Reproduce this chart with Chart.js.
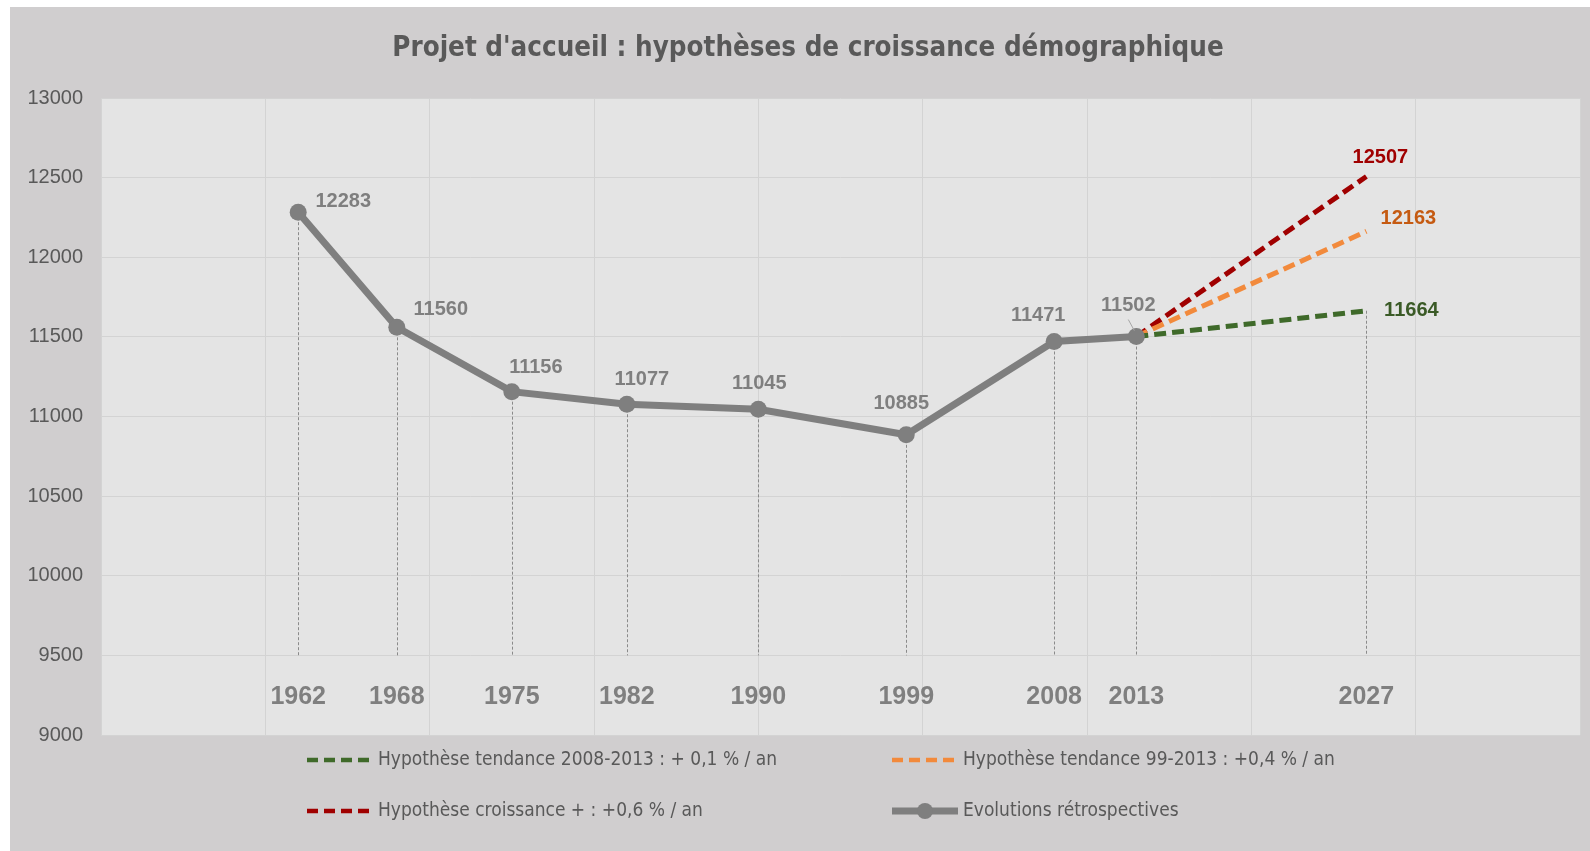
<!DOCTYPE html>
<html>
<head>
<meta charset="utf-8">
<script src="https://cdn.jsdelivr.net/npm/chart.js@4.4.1/dist/chart.umd.min.js"></script>
<style>
html,body{margin:0;padding:0;background:#fff;}
#wrap{position:absolute;left:10px;top:7px;width:1580px;height:844px;background:#d0cecf;}
</style>
</head>
<body>
<div id="wrap"><canvas id="myChart"></canvas></div>
<script>
// data
var years = [1962, 1968, 1975, 1982, 1990, 1999, 2008, 2013];
var population = [12283, 11560, 11156, 11077, 11045, 10885, 11471, 11502];
var projYears = [2013, 2027];
var hypTendance0813 = [11502, 11664];
var hypTendance9913 = [11502, 12163];
var hypCroissance = [11502, 12507];
var yMin = 9000, yMax = 13000, yStep = 500;
var xMin = 1950, xMax = 2040, xStep = 10;

var chartTitle = "Projet d'accueil : hypothèses de croissance démographique";
var labelsLegend = [
	"Evolutions rétrospectives",
	"Hypothèse tendance 2008-2013 : + 0,1 % / an",
	"Hypothèse tendance 99-2013 : +0,4 % / an",
	"Hypothèse croissance + : +0,6 % / an"
];

function toPoints(xs, ys)
{
	var pts = [];
	for (var i = 0; i < xs.length; i++) {
		pts.push({x: xs[i], y: ys[i]});
	}
	return pts;
}

var narrow = "'Liberation Sans Narrow', 'DejaVu Sans Condensed', sans-serif";
var sans = "'Liberation Sans', Arial, sans-serif";
var grey = '#7f7f7f';
var textGrey = '#595959';

// label offsets from the point (px), historical series
var histOffsets = [[45,-11],[44,-18],[24,-24],[15,-25],[1,-26],[-5,-31],[-16,-26],[-8,-31]];
// projection end labels: dataset index -> offset + colour
var projLabelStyle = {1: [45, 0, '#3a5a26'], 2: [42, -13, '#c55a11'], 3: [14, -19, '#a00000']};

var plotBg = {
	id: 'plotBg',
	beforeDraw: function(chart) {
		var a = chart.chartArea, ctx = chart.ctx;
		ctx.save();
		ctx.fillStyle = '#e4e4e4';
		ctx.fillRect(a.left, a.top, a.right - a.left, a.bottom - a.top);
		// title, slightly right of centre like the original
		ctx.fillStyle = textGrey;
		ctx.font = 'bold 27.5px ' + narrow;
		ctx.textAlign = 'center';
		ctx.textBaseline = 'middle';
		ctx.fillText(chartTitle, 798, 42);
		ctx.restore();
	}
};

var dropLines = {
	id: 'dropLines',
	beforeDatasetsDraw: function(chart) {
		var ctx = chart.ctx, ys = chart.scales.y;
		var yBase = ys.getPixelForValue(9500);
		ctx.save();
		ctx.strokeStyle = '#8a8a8a';
		ctx.lineWidth = 1;
		ctx.setLineDash([3, 2]);
		var pts = chart.getDatasetMeta(0).data.slice();
		pts.push(chart.getDatasetMeta(1).data[1]);
		pts.forEach(function(p) {
			ctx.beginPath();
			ctx.moveTo(Math.round(p.x) + 0.5, p.y);
			ctx.lineTo(Math.round(p.x) + 0.5, yBase);
			ctx.stroke();
		});
		ctx.restore();
	}
};

var labelsPlugin = {
	id: 'labelsPlugin',
	afterDatasetsDraw: function(chart) {
		var ctx = chart.ctx, xs = chart.scales.x, ys = chart.scales.y;
		ctx.save();
		ctx.textAlign = 'center';
		ctx.textBaseline = 'middle';

		// value labels, historical
		ctx.font = 'bold 20px ' + sans;
		ctx.fillStyle = grey;
		var meta = chart.getDatasetMeta(0);
		meta.data.forEach(function(p, i) {
			var o = histOffsets[i];
			ctx.fillText(population[i], p.x + o[0], p.y + o[1]);
		});
		// small leader line for 2013
		var p13 = meta.data[7];
		ctx.strokeStyle = '#a6a6a6';
		ctx.lineWidth = 1;
		ctx.beginPath();
		ctx.moveTo(p13.x - 8, p13.y - 17);
		ctx.lineTo(p13.x - 2, p13.y - 6);
		ctx.stroke();

		// projection end labels
		[1, 2, 3].forEach(function(di) {
			var end = chart.getDatasetMeta(di).data[1];
			var s = projLabelStyle[di];
			ctx.fillStyle = s[2];
			ctx.fillText(chart.data.datasets[di].data[1].y, end.x + s[0], end.y + s[1]);
		});

		// year labels
		ctx.font = 'bold 25px ' + sans;
		ctx.fillStyle = grey;
		var yLab = ys.getPixelForValue(9235);
		years.concat([projYears[1]]).forEach(function(yr) {
			ctx.fillText(yr, xs.getPixelForValue(yr), yLab);
		});
		ctx.restore();
	},
	afterDraw: function(chart) {
		// legend, two columns
		var ctx = chart.ctx;
		var ds = chart.data.datasets;
		var items = [
			[1, 297, 753], [2, 882, 753],
			[3, 297, 804], [0, 882, 804]
		];
		ctx.save();
		ctx.textBaseline = 'middle';
		ctx.textAlign = 'left';
		ctx.font = '19px ' + narrow;
		items.forEach(function(it) {
			var d = ds[it[0]], x = it[1], y = it[2];
			ctx.strokeStyle = d.borderColor;
			if (it[0] === 0) {
				ctx.setLineDash([]);
				ctx.lineWidth = 7;
				ctx.beginPath();
				ctx.moveTo(x, y);
				ctx.lineTo(x + 66, y);
				ctx.stroke();
				ctx.fillStyle = d.borderColor;
				ctx.beginPath();
				ctx.arc(x + 33, y, 8, 0, Math.PI * 2);
				ctx.fill();
			} else {
				ctx.setLineDash([11, 6]);
				ctx.lineWidth = 4.5;
				ctx.beginPath();
				ctx.moveTo(x, y);
				ctx.lineTo(x + 66, y);
				ctx.stroke();
			}
			ctx.fillStyle = textGrey;
			ctx.fillText(d.label, x + 71, y);
		});
		ctx.restore();
	}
};

var ctx = document.getElementById('myChart').getContext('2d');
var myChart = new Chart(ctx, {
	type: 'line',
	data: {
		datasets: [{
			label: labelsLegend[0],
			data: toPoints(years, population),
			borderColor: grey,
			backgroundColor: grey,
			borderWidth: 7,
			pointRadius: 8.5,
			pointBorderWidth: 0,
			pointBackgroundColor: grey
		}, {
			label: labelsLegend[1],
			data: toPoints(projYears, hypTendance0813),
			borderColor: '#3f6a2a',
			borderWidth: 5,
			borderDash: [12, 6],
			pointRadius: 0
		}, {
			label: labelsLegend[2],
			data: toPoints(projYears, hypTendance9913),
			borderColor: '#f28a3c',
			borderWidth: 5,
			borderDash: [12, 6],
			pointRadius: 0
		}, {
			label: labelsLegend[3],
			data: toPoints(projYears, hypCroissance),
			borderColor: '#a00000',
			borderWidth: 5,
			borderDash: [12, 6],
			pointRadius: 0
		}]
	},
	options: {
		responsive: true,
		maintainAspectRatio: false,
		animation: false,
		layout: {padding: {left: 0, right: 10, top: 91, bottom: 116}},
		plugins: {
			legend: {display: false},
			tooltip: {enabled: false},
			title: {display: false}
		},
		scales: {
			x: {
				type: 'linear',
				min: xMin,
				max: xMax,
				ticks: {display: false, stepSize: xStep},
				grid: {color: '#d3d3d3', drawTicks: false},
				border: {display: false}
			},
			y: {
				min: yMin,
				max: yMax,
				ticks: {
					stepSize: yStep, color: textGrey, font: {family: sans, size: 20}, padding: 18,
					callback: function(v) { return String(v); }
				},
				grid: {color: '#d3d3d3', drawTicks: false},
				border: {display: false},
				afterFit: function(scale) { scale.width = 91; }
			}
		}
	},
	plugins: [plotBg, dropLines, labelsPlugin]
});
</script>
</body>
</html>
